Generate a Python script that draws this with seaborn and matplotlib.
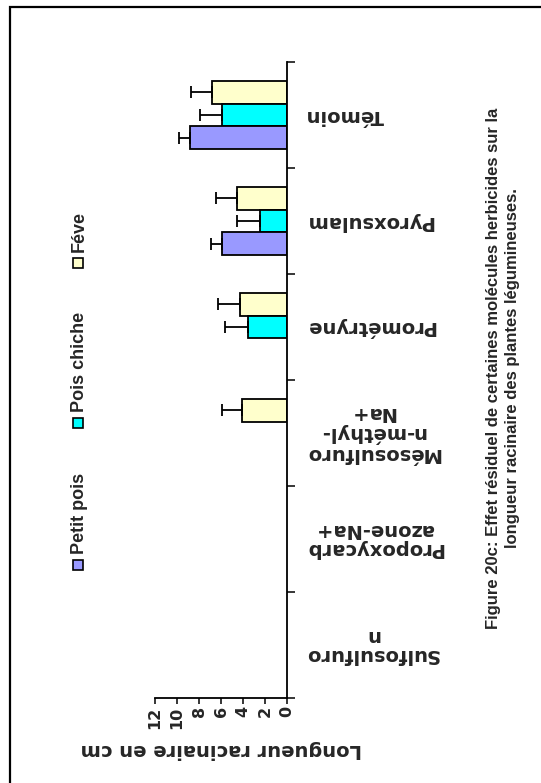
import numpy as np
import pandas as pd
import matplotlib
matplotlib.use("Agg")
import matplotlib.pyplot as plt
from matplotlib import font_manager
from matplotlib.transforms import blended_transform_factory
import seaborn as sns

# data, nan = no bar
categories = ["Témoin", "Pyroxsulam", "Prométryne", "Mésosulfuron-méthyl-Na+",
              "Propoxycarbazone-Na+", "Sulfosulfuron"]
cat_labels = ["Témoin", "Pyroxsulam", "Prométryne", "Mésosulfuro\nn-méthyl-\nNa+",
              "Propoxycarb\nazone-Na+", "Sulfosulfuro\nn"]
petit_pois = [8.8, 5.9, np.nan, np.nan, np.nan, np.nan]
petit_pois_err = [1.0, 1.0, 0, 0, 0, 0]
pois_chiche = [5.9, 2.5, 3.55, np.nan, np.nan, np.nan]
pois_chiche_err = [2.05, 2.05, 2.05, 0, 0, 0]
feve = [6.8, 4.55, 4.25, 4.1, np.nan, np.nan]
feve_err = [1.9, 1.9, 2.05, 1.85, 0, 0]

series = ["Petit pois", "Pois chiche", "Féve"]
colors = {"Petit pois": "#9999FF", "Pois chiche": "#00FFFF", "Féve": "#FFFFCC"}
hue_order = ["Féve", "Pois chiche", "Petit pois"]   # top to bottom inside a group

caption = ("Figure 20c: Effet résiduel de certaines molécules herbicides sur la\n"
           "longueur racinaire des plantes légumineuses.")

rows = []
for name, vals, errs in [("Petit pois", petit_pois, petit_pois_err),
                         ("Pois chiche", pois_chiche, pois_chiche_err),
                         ("Féve", feve, feve_err)]:
    for c, v, e in zip(categories, vals, errs):
        rows.append({"herbicide": c, "plante": name, "longueur": v, "err": e})
df = pd.DataFrame(rows).dropna()

sns.set_style("white")
W, H = 541, 783
fig = plt.figure(figsize=(W / 100, H / 100), dpi=100)
ax = fig.add_axes([155 / W, 1 - 698 / H, (287 - 155) / W, (698 - 62) / H])

width = 0.64
sns.barplot(data=df, x="longueur", y="herbicide", hue="plante", order=categories,
            hue_order=hue_order, palette=colors, saturation=1, orient="h",
            width=width, errorbar=None, edgecolor="black", linewidth=1.3,
            legend=False, ax=ax)

# one-sided error bars, drawn outward
n = len(hue_order)
for k, name in enumerate(hue_order):
    sub = df[df["plante"] == name]
    off = (k - (n - 1) / 2) * width / n
    ypos = [categories.index(c) + off for c in sub["herbicide"]]
    ax.errorbar(sub["longueur"], ypos, xerr=[np.zeros(len(sub)), sub["err"]],
                fmt="none", ecolor="black", elinewidth=1.3, capsize=4, capthick=1.3)

ax.set_xlim(12, 0)
ax.set_ylim(5.5, -0.5)
ax.set_xticks(np.arange(0, 13, 2))
ax.set_xticklabels([str(v) for v in range(0, 13, 2)], rotation=90,
                   fontsize=11.5, fontweight="bold", family="DejaVu Sans")
ax.set_yticks(np.arange(-0.5, 6, 1))
ax.set_yticklabels([])
ax.yaxis.tick_right()
ax.tick_params(axis="y", direction="out", length=6, width=1.3, right=True, left=False)
ax.tick_params(axis="x", direction="out", length=4, width=1.3, bottom=True, pad=2)
for s in ["top", "left"]:
    ax.spines[s].set_visible(False)
for s in ["bottom", "right"]:
    ax.spines[s].set_linewidth(1.3)
    ax.spines[s].set_color("black")
ax.set_ylabel("")
ax.set_xlabel("Longueur racinaire en cm", rotation=180, fontsize=14,
              fontweight="bold", family="DejaVu Sans", labelpad=8)

# category labels, upside down
tr = blended_transform_factory(ax.transAxes, ax.transData)
x_lab = (305 - 155) / (287 - 155)
for i, lab in enumerate(cat_labels):
    ax.text(x_lab, i, lab, transform=tr, rotation=180, ha="left", va="center",
            multialignment="center", fontsize=14, fontweight="bold",
            family="DejaVu Sans", linespacing=1.05)

# legend, vertical
leg_y = {"Féve": 263, "Pois chiche": 423, "Petit pois": 565}
for name in series:
    y = leg_y[name]
    fig.add_artist(plt.Rectangle((73 / W, 1 - (y + 5) / H), 10 / W, 10 / H,
                                 transform=fig.transFigure, facecolor=colors[name],
                                 edgecolor="black", linewidth=1.2))
    fig.text(79 / W, 1 - (y - 11) / H, name, rotation=90, ha="center", va="bottom",
             fontsize=13, fontweight="bold", family="Liberation Sans")

# caption
names = {f.name for f in font_manager.fontManager.ttflist}
if "Liberation Sans Narrow" in names:
    cap_font, cap_size = "Liberation Sans Narrow", 13
else:
    cap_font, cap_size = "Liberation Sans", 12
fig.text(503 / W, 1 - 368 / H, caption, rotation=90, ha="center", va="center",
         multialignment="center", fontsize=cap_size, fontweight="bold",
         family=cap_font, linespacing=1.35)

# frame (right and bottom edges are outside the picture)
fig.add_artist(plt.Rectangle((10 / W, -0.05), 1.2, 1.05 - 7 / H,
                             transform=fig.transFigure, fill=False,
                             edgecolor="black", linewidth=1.6))

fig.savefig("out.png", dpi=100)
